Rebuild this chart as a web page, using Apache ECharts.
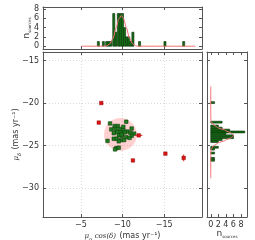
<!DOCTYPE html>
<html><head><meta charset="utf-8">
<script src="https://cdn.jsdelivr.net/npm/echarts@6/dist/echarts.min.js"></script>
<style>html,body{margin:0;padding:0;background:#fff}#c{width:255px;height:240px}</style>
</head><body><div id="c"></div>
<script>
// ---- data ----
const greenX = [-8.5, -10.45, -9.05, -9.45, -8.65, -9.15, -9.65, -10.1, -10.1, -11.1, -10.6, -9.3, -9.75, -10.25, -10.95, -11.4, -8.95, -9.55, -9.95, -10.45, -11.1, -8.95, -9.3, -9.8, -9.55, -10.2, -8.2, -10.85, -9.25, -9.55, -9.1, -9.9];
const greenY = [-22.4, -22.2, -22.7, -22.7, -23.1, -23.05, -23.05, -22.8, -23.2, -23.0, -23.35, -23.4, -23.45, -23.45, -23.5, -23.6, -23.55, -23.8, -23.85, -24.0, -23.85, -24.2, -24.2, -24.35, -24.5, -24.35, -24.45, -24.1, -25.3, -25.25, -25.45, -23.7];
const redX = [-7.45, -7.15, -11.95, -11.25, -15.15, -17.35];
const redY = [-20.0, -22.3, -23.8, -26.75, -25.95, -26.45];
const redXErr = [0.1, 0.1, 0.45, 0.1, 0.15, 0.1];
const redYErr = [0.1, 0.1, 0.1, 0.1, 0.15, 0.4];
const circleCenter = [-9.75, -23.7];
const circleRadius = 1.95;

const topBin = 0.25;
const topCenters = [-7.1, -7.7, -8.1, -8.35, -8.6, -8.95, -9.2, -9.5, -9.75, -10.0, -10.25, -10.5, -10.75, -11.0, -11.25, -12.05, -15.1, -17.35];
const topCounts  = [1, 1, 1, 1, 1, 7, 3, 7, 7, 7, 4, 2, 2, 1, 3, 1, 1, 1];
const topFitX = [-5.1, -7.6, -8.05, -8.45, -8.85, -9.25, -9.55, -9.85, -10.15, -10.45, -10.85, -11.25, -11.65, -12.1, -18.75];
const topFitN = [0, 0, 0.05, 0.45, 1.65, 4.0, 5.8, 6.6, 5.8, 4.0, 1.65, 0.45, 0.05, 0, 0];

const rightBin = 0.22;
const rightCenters = [-19.95, -22.25, -22.7, -22.95, -23.18, -23.4, -23.62, -23.85, -24.08, -24.3, -24.53, -25.2, -25.42, -25.88, -26.5, -26.73];
const rightCounts  = [1, 3, 2, 3, 5, 9, 4, 6, 6, 3, 2, 2, 1, 1, 1, 1];
const rightFitY = [-18.05, -21.6, -22.05, -22.45, -22.85, -23.25, -23.55, -23.8, -24.05, -24.35, -24.75, -25.15, -25.55, -26.0, -28.85];
const rightFitN = [0, 0, 0.05, 0.45, 1.7, 4.0, 5.5, 6.0, 5.5, 4.0, 1.7, 0.45, 0.05, 0, 0];

const pmRATicks = [-5, -10, -15];
const pmDecTicks = [-15, -20, -25, -30];
const countTicks = [0, 2, 4, 6, 8];

// ---- styling ----
const AX = '#555';
const TXT = '#333';
const FONT = 'DejaVu Sans';
const minus = v => String(v).replace('-', '\u2212');
function axis(o) {
  const base = {
    type: 'value', scale: false, nameMoveOverlap: false,
    axisLine: {show: true, onZero: false, lineStyle: {color: AX, width: 1}},
    axisTick: {show: true, inside: true, length: 3, lineStyle: {color: AX, width: 1}, customValues: o.ticks},
    axisLabel: {show: false},
    splitLine: {show: false}
  };
  if (o.labels) base.axisLabel = {show: true, customValues: o.ticks, formatter: minus, fontFamily: FONT, fontSize: 8, color: TXT, margin: o.margin || 4};
  if (o.grid) base.splitLine = {show: true, lineStyle: {color: '#d0d0d0', type: [1, 2], width: 0.8}};
  delete o.ticks; delete o.labels; delete o.margin; delete o.grid;
  return Object.assign(base, o);
}
const raRange = {min: -19.55, max: -0.45, inverse: true};
const decRange = {min: -33.4, max: -14.0};
const topCountRange = {min: -0.6, max: 8.4};
const rightCountRange = {min: -1.0, max: 9.6};
const nRich = {
  n: {fontFamily: FONT, fontSize: 9, color: TXT},
  s: {fontFamily: FONT, fontSize: 4, color: TXT, verticalAlign: 'bottom', lineHeight: 10}
};
const mathRich = {
  m: {fontFamily: 'DejaVu Serif', fontStyle: 'italic', fontSize: 7, color: TXT},
  s: {fontFamily: 'DejaVu Serif', fontStyle: 'italic', fontSize: 5, color: TXT, verticalAlign: 'bottom', lineHeight: 10},
  t: {fontFamily: FONT, fontSize: 8, color: TXT}
};

function histRect(horizontal, bin, fill) {
  return function (params, api) {
    const c = api.value(horizontal ? 1 : 0), n = api.value(horizontal ? 0 : 1);
    const a = horizontal ? api.coord([0, c - bin / 2]) : api.coord([c - bin / 2, 0]);
    const b = horizontal ? api.coord([n, c + bin / 2]) : api.coord([c + bin / 2, n]);
    return {type: 'rect', shape: {x: Math.min(a[0], b[0]), y: Math.min(a[1], b[1]), width: Math.abs(b[0] - a[0]), height: Math.abs(b[1] - a[1])},
      style: {fill: fill, stroke: '#0a2e0a', lineWidth: 0.6}};
  };
}

const gridBase = {containLabel: false, outerBoundsMode: 'none'};
const chart = echarts.init(document.getElementById('c'), null, {renderer: 'canvas'});
chart.setOption({
  animation: false,
  backgroundColor: '#fff',
  grid: [
    Object.assign({left: 43, top: 7, width: 159, height: 42}, gridBase),
    Object.assign({left: 43, top: 52, width: 159, height: 165}, gridBase),
    Object.assign({left: 207, top: 52, width: 40, height: 165}, gridBase)
  ],
  xAxis: [
    axis(Object.assign({gridIndex: 0, position: 'bottom', ticks: pmRATicks}, raRange)),
    axis(Object.assign({gridIndex: 0, position: 'top', ticks: pmRATicks}, raRange)),
    axis(Object.assign({gridIndex: 1, position: 'bottom', ticks: pmRATicks, labels: true, grid: true, margin: 4,
      name: '{m|μ}{s|α}{m| cos(δ)} {t|(mas yr⁻¹)}', nameLocation: 'middle', nameGap: 13, nameTextStyle: {rich: mathRich}}, raRange)),
    axis(Object.assign({gridIndex: 1, position: 'top', ticks: pmRATicks}, raRange)),
    axis(Object.assign({gridIndex: 2, position: 'bottom', ticks: countTicks, labels: true, margin: 4,
      name: '{n|n}{s|sources}', nameLocation: 'middle', nameGap: 12, nameTextStyle: {rich: nRich}}, rightCountRange)),
    axis(Object.assign({gridIndex: 2, position: 'top', ticks: countTicks}, rightCountRange))
  ],
  yAxis: [
    axis(Object.assign({gridIndex: 0, position: 'left', ticks: countTicks, labels: true, margin: 4,
      name: '{n|n}{s|sources}', nameLocation: 'middle', nameGap: 11, nameRotate: 90, nameTextStyle: {rich: nRich}}, topCountRange)),
    axis(Object.assign({gridIndex: 0, position: 'right', ticks: countTicks}, topCountRange)),
    axis(Object.assign({gridIndex: 1, position: 'left', ticks: pmDecTicks, labels: true, grid: true, margin: 4,
      name: '{m|μ}{s|δ} {t|(mas yr⁻¹)}', nameLocation: 'middle', nameGap: 21, nameRotate: 90, nameTextStyle: {rich: mathRich}}, decRange)),
    axis(Object.assign({gridIndex: 1, position: 'right', ticks: pmDecTicks}, decRange)),
    axis(Object.assign({gridIndex: 2, position: 'left', ticks: pmDecTicks}, decRange)),
    axis(Object.assign({gridIndex: 2, position: 'right', ticks: pmDecTicks}, decRange))
  ],
  series: [
    {type: 'custom', xAxisIndex: 2, yAxisIndex: 2, z: 1,
      data: [[circleCenter[0], circleCenter[1], circleRadius]],
      encode: {x: 0, y: 1},
      renderItem: function (params, api) {
        const cx = api.value(0), cy = api.value(1), r = api.value(2);
        const c = api.coord([cx, cy]);
        const px = api.coord([cx + r, cy]);
        const py = api.coord([cx, cy + r]);
        const rad = (Math.abs(px[0] - c[0]) + Math.abs(py[1] - c[1])) / 2;
        return {type: 'circle', shape: {cx: c[0], cy: c[1], r: rad}, style: {fill: 'rgba(255,40,40,0.22)'}};
      }},
    {type: 'scatter', xAxisIndex: 2, yAxisIndex: 2, z: 3, symbol: 'rect', symbolSize: 3.6,
      data: greenX.map((x, i) => [x, greenY[i]]),
      itemStyle: {color: '#1f7a1f', borderColor: '#0a3a0a', borderWidth: 0.5, opacity: 1}},
    {type: 'custom', xAxisIndex: 2, yAxisIndex: 2, z: 4,
      data: redX.map((x, i) => [x, redY[i], redXErr[i], redYErr[i]]),
      encode: {x: 0, y: 1},
      renderItem: function (params, api) {
        const x = api.value(0), y = api.value(1), ex = api.value(2), ey = api.value(3);
        const a = api.coord([x - ex, y]), b = api.coord([x + ex, y]);
        const c = api.coord([x, y - ey]), d = api.coord([x, y + ey]);
        const st = {stroke: '#e03030', lineWidth: 1};
        return {type: 'group', children: [
          {type: 'line', shape: {x1: a[0], y1: a[1], x2: b[0], y2: b[1]}, style: st},
          {type: 'line', shape: {x1: c[0], y1: c[1], x2: d[0], y2: d[1]}, style: st}
        ]};
      }},
    {type: 'scatter', xAxisIndex: 2, yAxisIndex: 2, z: 5, symbol: 'rect', symbolSize: 3.6,
      data: redX.map((x, i) => [x, redY[i]]),
      itemStyle: {color: '#d81414', borderColor: '#8a0000', borderWidth: 0.4, opacity: 1}},
    {type: 'custom', xAxisIndex: 0, yAxisIndex: 0, z: 2,
      data: topCenters.map((c, i) => [c, topCounts[i]]),
      encode: {x: 0, y: 1},
      renderItem: histRect(false, topBin, '#126e12')},
    {type: 'line', xAxisIndex: 0, yAxisIndex: 0, z: 3, showSymbol: false, smooth: 0.3, smoothMonotone: 'x',
      data: topFitX.map((x, i) => [x, topFitN[i]]),
      lineStyle: {color: '#f07070', width: 1}},
    {type: 'custom', xAxisIndex: 4, yAxisIndex: 4, z: 2,
      data: rightCounts.map((n, i) => [n, rightCenters[i]]),
      encode: {x: 0, y: 1},
      renderItem: histRect(true, rightBin, '#126e12')},
    {type: 'line', xAxisIndex: 4, yAxisIndex: 4, z: 3, showSymbol: false, smooth: 0.3, smoothMonotone: 'y',
      data: rightFitN.map((n, i) => [n, rightFitY[i]]),
      lineStyle: {color: '#f07070', width: 1}}
  ]
});
</script>
</body></html>
